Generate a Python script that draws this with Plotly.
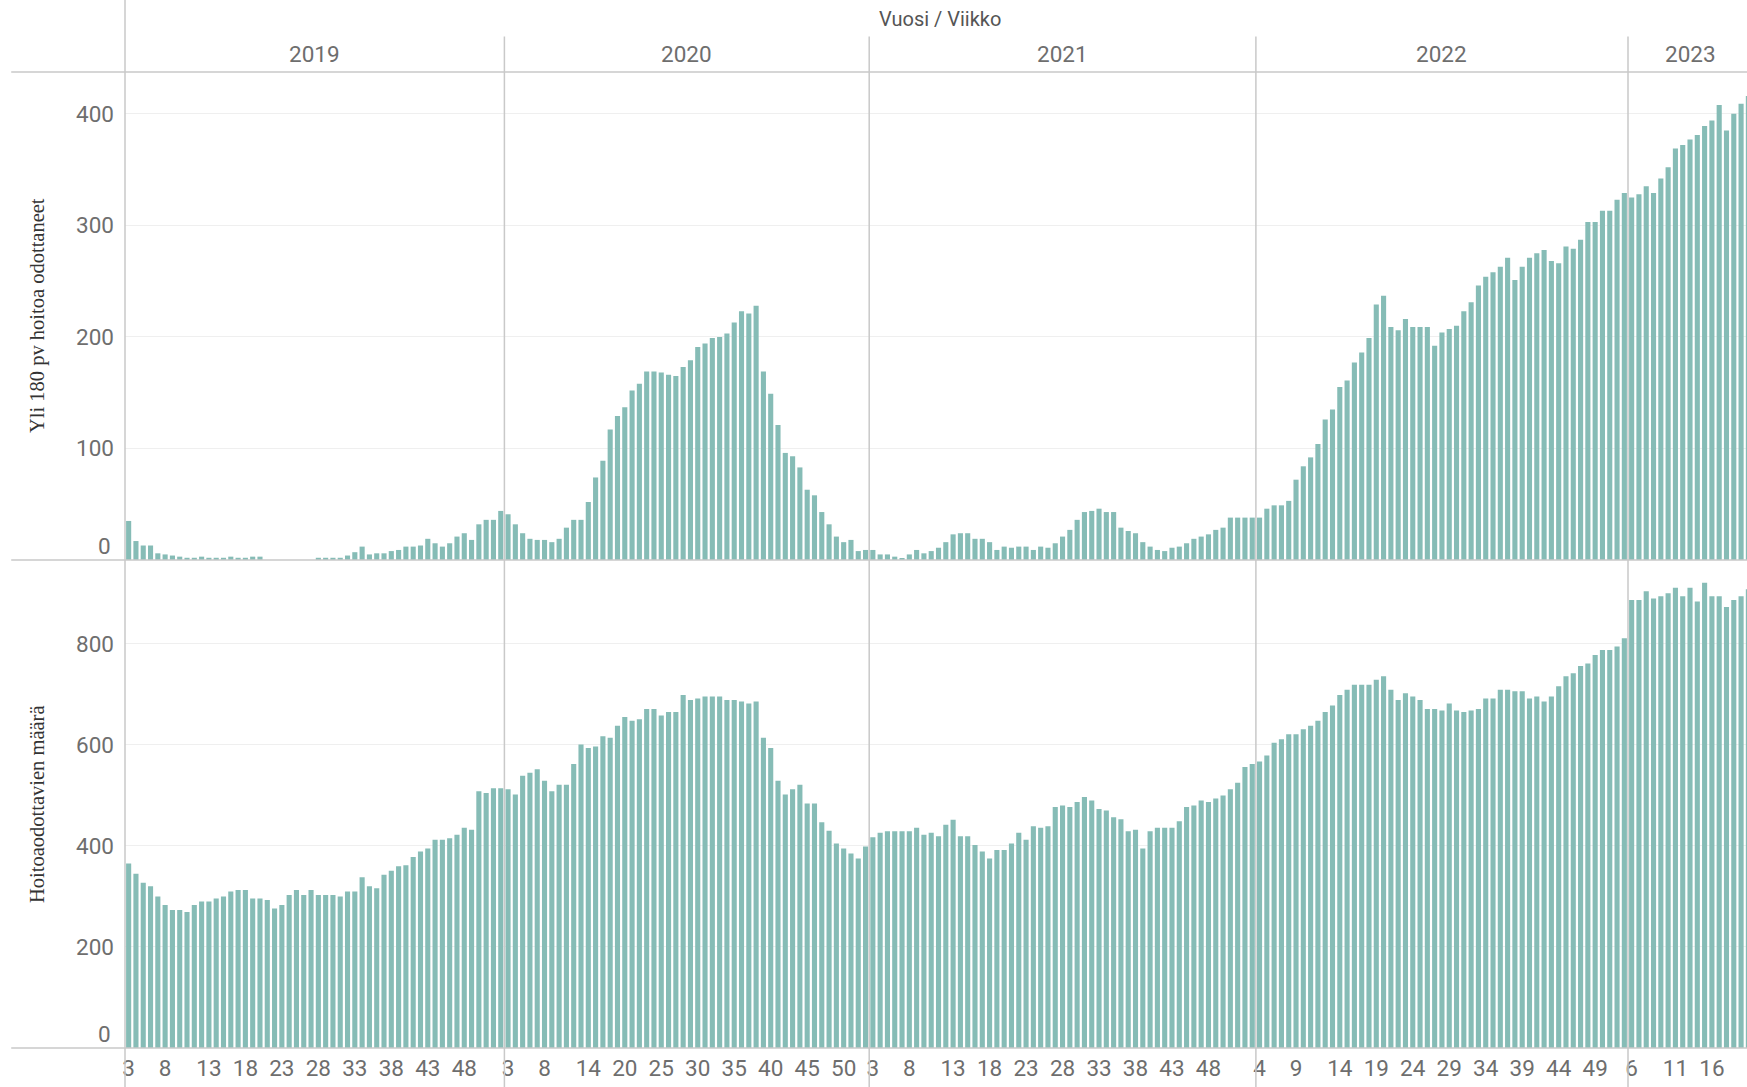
import plotly.graph_objects as go

# ---------------- data ----------------
years = [2019, 2020, 2021, 2022, 2023]

# week tick labels shown on the axis, and the bar (within the year) each one sits under
labels_2019 = ["3", "8", "13", "18", "23", "28", "33", "38", "43", "48"]
labels_2020 = ["3", "8", "14", "20", "25", "30", "35", "40", "45", "50"]
labels_2021 = ["3", "8", "13", "18", "23", "28", "33", "38", "43", "48"]
labels_2022 = ["4", "9", "14", "19", "24", "29", "34", "39", "44", "49"]
labels_2023 = ["6", "11", "16"]
label_bar_2019 = [0, 5, 11, 16, 21, 26, 31, 36, 41, 46]
label_bar_2020 = [0, 5, 11, 16, 21, 26, 31, 36, 41, 46]
label_bar_2021 = [0, 5, 11, 16, 21, 26, 31, 36, 41, 46]
label_bar_2022 = [0, 5, 11, 16, 21, 26, 31, 36, 41, 46]
label_bar_2023 = [0, 6, 11]

# Yli 180 pv hoitoa odottaneet
over180_2019 = [35, 17, 13, 13, 6, 5, 4, 3, 2, 2, 3, 2, 2, 2, 3, 2, 2, 3, 3, 0, 0, 0, 0, 0, 0, 0,
                2, 2, 2, 2, 4, 7, 12, 5, 6, 6, 8, 9, 12, 12, 13, 19, 15, 12, 15, 21, 24, 18, 32, 36, 36, 44]
over180_2020 = [41, 32, 24, 19, 18, 18, 16, 19, 29, 36, 36, 52, 74, 89, 117, 129, 137, 152, 158, 169,
                169, 168, 166, 165, 173, 179, 191, 194, 199, 200, 203, 213, 223, 221, 228, 169, 149, 121,
                96, 93, 83, 63, 58, 43, 32, 21, 16, 18, 8, 9]
over180_2021 = [9, 5, 5, 3, 1, 5, 9, 6, 8, 11, 16, 23, 24, 24, 19, 19, 16, 9, 12, 11, 12, 12, 9, 12, 11,
                15, 21, 27, 36, 43, 44, 46, 43, 43, 29, 26, 24, 16, 12, 9, 8, 11, 12, 15, 19, 21, 23, 27,
                29, 38, 38, 38, 38]
over180_2022 = [38, 46, 49, 49, 53, 72, 84, 92, 104, 126, 135, 155, 161, 177, 186, 199, 229, 237, 209,
                206, 216, 209, 209, 209, 192, 204, 207, 210, 223, 231, 246, 254, 258, 263, 271, 251, 263,
                271, 275, 278, 268, 266, 281, 279, 287, 303, 303, 313, 313, 323, 329]
over180_2023 = [325, 328, 335, 329, 342, 352, 369, 372, 377, 381, 389, 394, 408, 385, 400, 409, 416]

# Hoitoaodottavien määrä
waiting_2019 = [365, 345, 327, 320, 300, 283, 273, 273, 269, 283, 290, 290, 296, 300, 310, 313, 313, 296,
                296, 293, 276, 283, 303, 313, 303, 313, 303, 303, 303, 300, 310, 310, 338, 320, 316, 343,
                351, 360, 362, 378, 389, 395, 412, 412, 415, 422, 436, 432, 508, 505, 514, 514]
waiting_2020 = [512, 502, 539, 545, 552, 529, 508, 521, 521, 562, 601, 594, 597, 617, 614, 638, 655, 648,
                651, 671, 671, 658, 665, 665, 699, 689, 692, 696, 696, 696, 689, 689, 686, 682, 686, 614,
                594, 529, 502, 512, 521, 484, 484, 447, 430, 405, 395, 385, 375, 399]
waiting_2021 = [417, 426, 429, 429, 429, 429, 436, 422, 426, 419, 442, 452, 419, 419, 402, 389, 375, 392,
                392, 405, 426, 412, 439, 436, 439, 477, 480, 477, 487, 497, 490, 473, 470, 457, 453, 429,
                432, 395, 429, 436, 436, 436, 449, 477, 480, 490, 487, 494, 500, 512, 525, 556, 562]
waiting_2022 = [567, 579, 604, 611, 621, 621, 631, 638, 648, 665, 678, 699, 709, 719, 719, 719, 729, 736,
                709, 689, 702, 696, 689, 671, 671, 668, 682, 668, 665, 668, 671, 692, 692, 709, 709, 706,
                706, 692, 696, 686, 696, 716, 736, 742, 756, 761, 778, 788, 788, 795, 811]
waiting_2023 = [887, 887, 904, 890, 894, 900, 911, 894, 911, 884, 921, 894, 894, 873, 887, 894, 908]

labels = [labels_2019, labels_2020, labels_2021, labels_2022, labels_2023]
label_bars = [label_bar_2019, label_bar_2020, label_bar_2021, label_bar_2022, label_bar_2023]
over180 = [over180_2019, over180_2020, over180_2021, over180_2022, over180_2023]
waiting = [waiting_2019, waiting_2020, waiting_2021, waiting_2022, waiting_2023]

# ---------------- build ----------------
x_all, y_top, y_bot, tickvals, ticktext, hov = [], [], [], [], [], []
bounds = []
i = 0
for yr, lab, lbar, o, w in zip(years, labels, label_bars, over180, waiting):
    start = i
    for k in range(len(o)):
        x_all.append(i)
        hov.append(f"{yr}")
        i += 1
    for t, b in zip(lab, lbar):
        tickvals.append(start + b)
        ticktext.append(t)
    bounds.append((start - 0.5, i - 0.5))
    y_top += o
    y_bot += w

W, H = 1747, 1087
L, T, B = 124.8, 72.4, 39.0
PW = W - L
PH = H - T - B
px_per_bar = 7.297
x0 = -0.5
x1 = x0 + PW / px_per_bar

def px_x(v):
    return (v - x0) / (x1 - x0)

def py(Y):
    return (H - B - Y) / PH

BAR = "#86BCB6"
LINE = "#c9c9c9"
GRID = "#efefef"
TXT = "#6e6e6e"
SANS = "Roboto, Arial, sans-serif"
SERIF = "Liberation Serif, Times New Roman, serif"

fig = go.Figure()
fig.add_trace(go.Bar(x=x_all, y=y_top, xaxis="x", yaxis="y", marker=dict(color=BAR, line=dict(width=0)),
                     customdata=hov, hovertemplate="%{customdata}: %{y}<extra></extra>"))
fig.add_trace(go.Bar(x=x_all, y=y_bot, xaxis="x", yaxis="y2", marker=dict(color=BAR, line=dict(width=0)),
                     customdata=hov, hovertemplate="%{customdata}: %{y}<extra></extra>"))

shapes = []
for yp in [1.0, 0.5, 0.0]:
    shapes.append(dict(type="line", xref="paper", yref="paper", x0=(11 - L) / PW, x1=1.0, y0=yp, y1=yp,
                       line=dict(color=LINE, width=1.5)))
shapes.append(dict(type="line", xref="paper", yref="paper", x0=0, x1=0, y0=py(0), y1=py(H),
                   line=dict(color=LINE, width=1.5)))
for b0, b1 in bounds[1:]:
    shapes.append(dict(type="line", xref="paper", yref="paper", x0=px_x(b0), x1=px_x(b0),
                       y0=py(36.8), y1=py(H), line=dict(color=LINE, width=1.5)))

ann = []
ann.append(dict(text="Vuosi / Viikko", xref="paper", yref="paper", x=0.5, y=py(19), showarrow=False,
                xshift=4, font=dict(family=SANS, size=20, color="#555555"), xanchor="center", yanchor="middle"))
for yr, (b0, b1) in zip(years, bounds):
    c = (b0 + b1) / 2
    ann.append(dict(text=str(yr), xref="paper", yref="paper", x=px_x(c), y=py(54.6), showarrow=False,
                    font=dict(family=SANS, size=22.5, color=TXT), xanchor="center", yanchor="middle"))
for yref in ["y", "y2"]:
    ann.append(dict(text="0", xref="paper", yref=yref, x=0, y=0, xanchor="right", yanchor="middle",
                    xshift=-12, yshift=14, showarrow=False, font=dict(family=SANS, size=22.5, color=TXT)))
ann.append(dict(text="Yli 180 pv hoitoa odottaneet", xref="paper", yref="paper", x=0, y=0.75,
                xshift=-(L - 36.8), textangle=-90, showarrow=False, xanchor="center", yanchor="middle",
                font=dict(family=SERIF, size=20.5, color="#333333")))
ann.append(dict(text="Hoitoaodottavien määrä", xref="paper", yref="paper", x=0, y=0.25,
                xshift=-(L - 36.8), textangle=-90, showarrow=False, xanchor="center", yanchor="middle",
                font=dict(family=SERIF, size=20.5, color="#333333")))

fig.update_layout(
    width=W, height=H,
    margin=dict(l=L, r=0, t=T, b=B, pad=0),
    paper_bgcolor="white", plot_bgcolor="white",
    showlegend=False, bargap=0.3,
    xaxis=dict(domain=[0, 1], anchor="y2", range=[x0, x1], tickmode="array", tickvals=tickvals,
               ticktext=ticktext, showgrid=False, zeroline=False, showline=False, ticks="",
               ticklabelstandoff=4, tickfont=dict(family=SANS, size=22.5, color=TXT)),
    yaxis=dict(domain=[0.5, 1], anchor="x", range=[0, 437.5], tickmode="array", tickvals=[100, 200, 300, 400],
               showgrid=True, gridcolor=GRID, gridwidth=1, zeroline=False, showline=False, ticks="",
               ticklabelstandoff=10, tickfont=dict(family=SANS, size=22.5, color=TXT)),
    yaxis2=dict(domain=[0, 0.5], anchor="x", range=[0, 966], tickmode="array", tickvals=[200, 400, 600, 800],
                showgrid=True, gridcolor=GRID, gridwidth=1, zeroline=False, showline=False, ticks="",
                ticklabelstandoff=10, tickfont=dict(family=SANS, size=22.5, color=TXT)),
    shapes=shapes, annotations=ann,
)

fig.write_html("out.html", config={"displayModeBar": False},
               post_script="document.body.style.margin='0px';document.body.style.overflow='hidden';")
